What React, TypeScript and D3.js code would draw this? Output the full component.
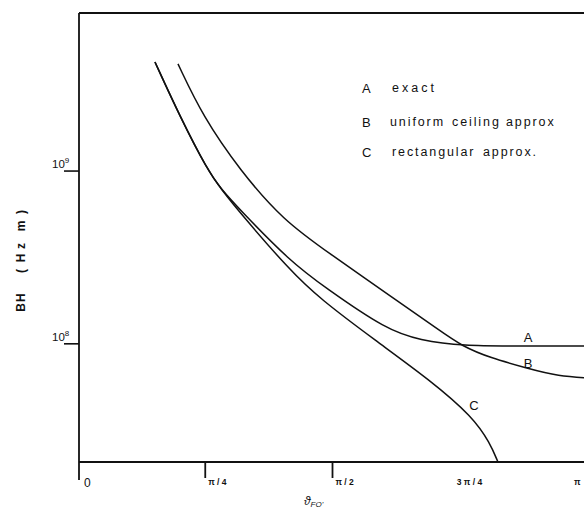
import React from "react";
import * as d3 from "d3";

// theta (radians) and BH (Hz m)
const thetaA = [0.475, 0.63, 0.8, 0.886, 1.0, 1.308, 1.524, 1.907, 2.111, 2.37, 2.75, 3.2];
const bhA = [4.28e9, 2.06e9, 1.01e9, 7.8e8, 5.96e8, 3.01e8, 2.12e8, 1.2e8, 1.05e8, 9.7e7, 9.7e7, 9.7e7];

const thetaB = [0.617, 0.772, 1.0, 1.265, 1.555, 1.926, 2.234, 2.37, 2.543, 2.771, 2.956, 3.2];
const bhB = [4.17e9, 2.06e9, 1.01e9, 5.2e8, 3.32e8, 1.9e8, 1.19e8, 9.7e7, 8.3e7, 7.23e7, 6.5e7, 6.3e7];

const thetaC = [0.475, 0.63, 0.8, 0.886, 1.0, 1.308, 1.494, 1.833, 2.173, 2.438, 2.543, 2.592];
const bhC = [4.28e9, 2.06e9, 1.01e9, 7.8e8, 5.73e8, 2.66e8, 1.82e8, 1.05e8, 6.17e7, 3.77e7, 2.66e7, 2.07e7];

const yTicks = [1e9, 1e8];
const yTickLabels = ["9", "8"];
const xTicks = [0, Math.PI / 4, Math.PI / 2, (3 * Math.PI) / 4, Math.PI];
const xTickLabels = ["0", "π / 4", "π / 2", "3 π / 4", "π"];
const xTickMarks = [0, Math.PI / 4, Math.PI / 2];

const legendKeys = ["A", "B", "C"];
const legendWords = [["exact"], ["uniform", "ceiling", "approx"], ["rectangular", "approx."]];
const legendWordX = [[392], [390, 452, 506], [392, 483]];
const legendBase = [93, 126.5, 157];

const yTitleParts = ["BH", "(", "H", "z", "m", ")"];
const yTitlePos = [302, 271, 258, 246, 226, 212];

const W = 584;
const H = 512;

export default function App() {
  const x = d3.scaleLinear().domain([0, Math.PI]).range([78, 587]);
  const y = d3.scaleLog().domain([2.07e7, 8.22e9]).range([462, 13]);

  const line = d3
    .line<[number, number]>()
    .x((d) => x(d[0]))
    .y((d) => y(d[1]))
    .curve(d3.curveBasis);

  const mk = (t: number[], v: number[]) => t.map((tt, i) => [tt, v[i]] as [number, number]);
  const series = [mk(thetaA, bhA), mk(thetaB, bhB), mk(thetaC, bhC)];

  const font = "'Liberation Sans', Arial, sans-serif";
  const x0 = x(0) + 1;
  const yBot = y(2.07e7);
  const yTop = y(8.22e9);

  return (
    <svg
      width={W}
      height={H}
      style={{ position: "absolute", left: 0, top: 0, background: "#fff" }}
      fontFamily={font}
    >
      <rect x={0} y={0} width={W} height={H} fill="#fff" />
      <defs>
        <clipPath id="plot">
          <rect x={x0} y={yTop} width={W - x0} height={yBot - yTop} />
        </clipPath>
      </defs>
      {/* frame */}
      <line x1={x0} y1={yTop} x2={W} y2={yTop} stroke="#111" strokeWidth={1.8} />
      <line x1={x0} y1={yTop} x2={x0} y2={480} stroke="#111" strokeWidth={1.8} />
      <line x1={x0} y1={yBot} x2={W} y2={yBot} stroke="#111" strokeWidth={1.8} />

      {/* x tick marks */}
      {xTickMarks.slice(1).map((t, i) => (
        <line key={i} x1={x(t)} y1={yBot} x2={x(t)} y2={478} stroke="#111" strokeWidth={1.8} />
      ))}
      {/* x tick labels */}
      {xTicks.map((t, i) => {
        if (i === 0)
          return (
            <text key={i} x={x(t) + 6} y={487} fontSize={12} fill="#111">
              {xTickLabels[i]}
            </text>
          );
        const px = i === 3 ? x(t) - 3 : i === 4 ? x(t) - 13 : x(t) + 3;
        return (
          <text key={i} x={px} y={485} fontSize={8.5} fontWeight="bold" fill="#111">
            {xTickLabels[i]}
          </text>
        );
      })}

      {/* y ticks */}
      {yTicks.map((v, i) => (
        <g key={i}>
          <line x1={64} y1={y(v)} x2={x0} y2={y(v)} stroke="#111" strokeWidth={1.6} />
          <text x={52} y={y(v) - 3} fontSize={11.5} fill="#111">
            10
            <tspan fontSize={8} dy={-5}>
              {yTickLabels[i]}
            </tspan>
          </text>
        </g>
      ))}

      {/* y axis title */}
      {yTitleParts.map((p, i) => (
        <text
          key={i}
          transform={`translate(25,${yTitlePos[i]}) rotate(-90)`}
          textAnchor="middle"
          fontSize={12}
          fontWeight="bold"
          fill="#111"
          letterSpacing={p === "BH" ? 1 : 0}
        >
          {p}
        </text>
      ))}

      {/* x axis title */}
      <text x={304} y={505} fontSize={12} fontStyle="italic" fill="#111">
        ϑ
        <tspan fontSize={8} dy={2}>
          FO'
        </tspan>
      </text>

      {/* curves */}
      <g clipPath="url(#plot)">
        {series.map((s, i) => (
          <path key={i} d={line(s) || ""} fill="none" stroke="#111" strokeWidth={1.5} />
        ))}
      </g>

      {/* curve labels */}
      <text x={528} y={342} fontSize={13} textAnchor="middle" fill="#111">A</text>
      <text x={528} y={368} fontSize={13} textAnchor="middle" fill="#111">B</text>
      <text x={474} y={410} fontSize={13} textAnchor="middle" fill="#111">C</text>

      {/* legend */}
      {legendKeys.map((k, i) => (
        <g key={k}>
          <text x={362} y={legendBase[i]} fontSize={13} fill="#111">
            {k}
          </text>
          {legendWords[i].map((w, j) => (
            <text
              key={j}
              x={legendWordX[i][j]}
              y={legendBase[i] - 1}
              fontSize={12.5}
              fill="#111"
              letterSpacing={i === 0 ? 3 : 1.9}
            >
              {w}
            </text>
          ))}
        </g>
      ))}
    </svg>
  );
}
